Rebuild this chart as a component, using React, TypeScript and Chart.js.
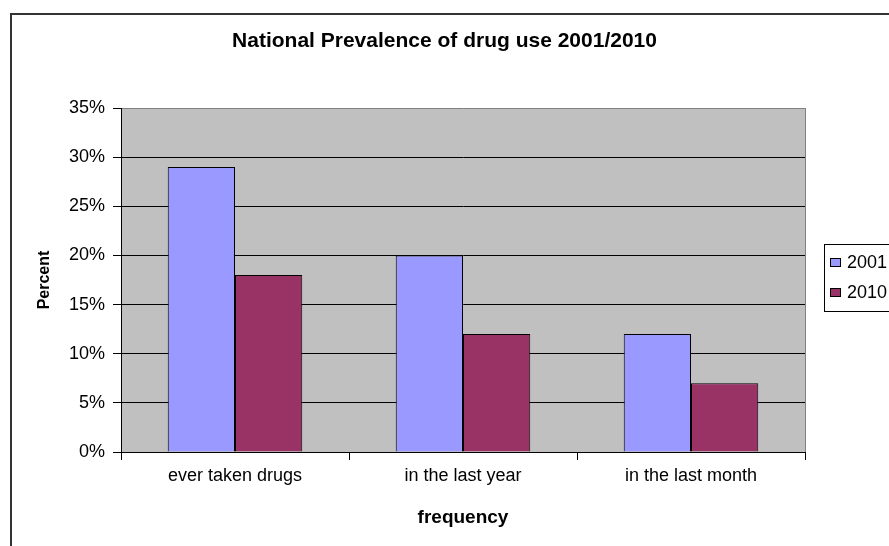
import React, { useEffect, useRef } from "react";
import { Chart, registerables } from "chart.js";

Chart.register(...registerables);

const chartTitle = "National Prevalence of drug use 2001/2010";
const categories = ["ever taken drugs", "in the last year", "in the last month"];
const seriesLabels = ["2001", "2010"];
const values2001 = [29, 20, 12];
const values2010 = [18, 12, 7];
const yTickMax = 35;
const yTickStep = 5;
const xAxisTitle = "frequency";
const yAxisTitle = "Percent";

const FONT = "'Liberation Sans', Arial, Helvetica, sans-serif";
const COLOR_2001 = "#9999FF";
const COLOR_2010 = "#993366";
const PLOT_BG = "#C0C0C0";

// Gray plot background, gray right plot border, outer frame and legend box
const framePlugin = {
  id: "frame",
  beforeDraw(chart: any) {
    const { ctx, chartArea: a } = chart;
    ctx.save();
    ctx.fillStyle = PLOT_BG;
    ctx.fillRect(a.left, a.top, a.right - a.left, a.bottom - a.top);
    ctx.restore();
  },
  afterDraw(chart: any) {
    const { ctx, chartArea: a } = chart;
    ctx.save();
    // plot area right edge
    ctx.strokeStyle = "#808080";
    ctx.lineWidth = 1;
    ctx.beginPath();
    ctx.moveTo(Math.round(a.right) + 0.5, a.top);
    ctx.lineTo(Math.round(a.right) + 0.5, a.bottom);
    ctx.stroke();

    // outer chart frame
    ctx.strokeStyle = "#333333";
    ctx.lineWidth = 2;
    ctx.strokeRect(11, 14, chart.width + 20, chart.height + 20);

    // legend
    const lx = 824;
    const ly = 244;
    ctx.fillStyle = "#ffffff";
    ctx.fillRect(lx, ly, 90, 67);
    ctx.strokeStyle = "#000000";
    ctx.lineWidth = 1;
    ctx.strokeRect(lx + 0.5, ly + 0.5, 90, 67);
    ctx.font = `18px ${FONT}`;
    ctx.textBaseline = "middle";
    chart.data.datasets.forEach((ds: any, i: number) => {
      const cy = ly + 18 + i * 30;
      ctx.fillStyle = ds.backgroundColor;
      ctx.fillRect(lx + 6, cy - 4, 11, 9);
      ctx.strokeStyle = "#000000";
      ctx.strokeRect(lx + 6.5, cy - 3.5, 10, 8);
      ctx.fillStyle = "#000000";
      ctx.fillText(ds.label, lx + 23, cy + 1);
    });
    ctx.restore();
  },
};

export default function App() {
  const canvasRef = useRef<HTMLCanvasElement | null>(null);

  useEffect(() => {
    if (!canvasRef.current) return;
    const yTicks: number[] = [];
    for (let v = 0; v <= yTickMax; v += yTickStep) yTicks.push(v);

    const chart = new Chart(canvasRef.current, {
      type: "bar",
      data: {
        labels: categories,
        datasets: [
          {
            label: seriesLabels[0],
            data: values2001,
            backgroundColor: COLOR_2001,
            borderColor: "#000000",
            borderWidth: 1,
          },
          {
            label: seriesLabels[1],
            data: values2010,
            backgroundColor: COLOR_2010,
            borderColor: "#000000",
            borderWidth: 1,
          },
        ],
      },
      options: {
        responsive: false,
        animation: false,
        events: [],
        layout: { padding: { left: 0, right: 0, top: 0, bottom: 0 } },
        datasets: {
          bar: { categoryPercentage: 0.59, barPercentage: 1 },
        },
        plugins: {
          legend: { display: false },
          tooltip: { enabled: false },
          title: {
            display: true,
            text: chartTitle,
            color: "#000000",
            font: { family: FONT, size: 21, weight: "bold" },
            padding: { top: 29, bottom: 53.8 },
          },
        },
        scales: {
          x: {
            grid: {
              offset: true,
              drawOnChartArea: false,
              drawTicks: true,
              tickLength: 8,
              color: "#000000",
            },
            border: { color: "#000000", width: 1 },
            ticks: {
              color: "#000000",
              font: { family: FONT, size: 18 },
              padding: 5,
              maxRotation: 0,
            },
            title: {
              display: true,
              text: xAxisTitle,
              color: "#000000",
              font: { family: FONT, size: 19, weight: "bold" },
              padding: { top: 0, bottom: 16.6 },
            },
            afterFit(scale: any) {
              scale.height = 94;
            },
          },
          y: {
            min: 0,
            max: yTickMax,
            afterBuildTicks(scale: any) {
              scale.ticks = yTicks.map((v) => ({ value: v }));
            },
            grid: {
              color: (ctx: any) =>
                ctx.tick && ctx.tick.value === yTickMax ? "#808080" : "#000000",
              tickColor: "#000000",
              tickLength: 8,
              lineWidth: 1,
            },
            border: { color: "#000000", width: 1 },
            ticks: {
              color: "#000000",
              font: { family: FONT, size: 18 },
              padding: 8,
              callback: (v: any) => `${v}%`,
            },
            title: {
              display: true,
              text: yAxisTitle,
              color: "#000000",
              font: { family: FONT, size: 16, weight: "bold" },
              padding: { top: 35, bottom: 0 },
            },
            afterFit(scale: any) {
              scale.width = 121;
            },
          },
          // empty right-hand axis that reserves the strip holding the legend
          legendSpace: {
            type: "linear",
            position: "right",
            display: true,
            grid: { display: false, drawTicks: false },
            ticks: { display: false },
            border: { display: false },
            afterFit(scale: any) {
              scale.width = 84;
            },
          },
        },
      },
      plugins: [framePlugin],
    });

    return () => chart.destroy();
  }, []);

  return (
    <div style={{ position: "fixed", left: 0, top: 0, width: 889, height: 546, background: "#ffffff" }}>
      <canvas ref={canvasRef} width={889} height={546} />
    </div>
  );
}
